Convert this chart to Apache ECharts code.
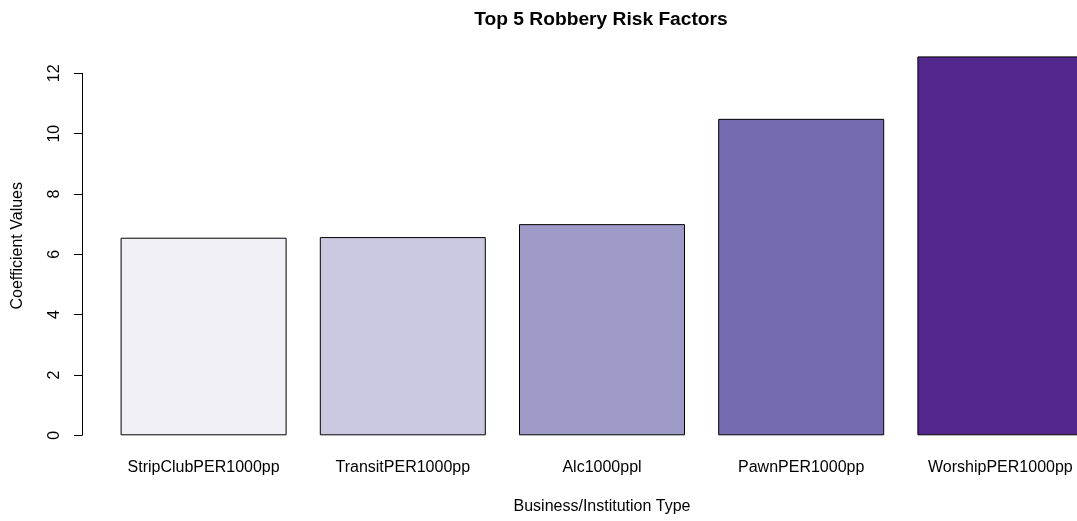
<!DOCTYPE html>
<html>
<head>
<meta charset="utf-8">
<script src="https://cdn.jsdelivr.net/npm/echarts@6/dist/echarts.min.js"></script>
<style>html,body{margin:0;padding:0;background:#fff;overflow:hidden;}#c{width:1100px;height:521px;}</style>
</head>
<body>
<div id="c"></div>
<script>
var categories = ["StripClubPER1000pp", "TransitPER1000pp", "Alc1000ppl", "PawnPER1000pp", "WorshipPER1000pp"];
var values = [6.55, 6.57, 7.0, 10.49, 12.56];
var barColors = ["#F2F0F7", "#CBC9E2", "#9E9AC8", "#756BB1", "#54278F"];
var yTicks = [0, 2, 4, 6, 8, 10, 12];

var font = "'Liberation Sans', Arial, sans-serif";
var chart = echarts.init(document.getElementById('c'), null, {renderer: 'canvas'});
chart.setOption({
  animation: false,
  backgroundColor: '#ffffff',
  title: {
    text: 'Top 5 Robbery Risk Factors',
    left: 596, top: 5, textAlign: 'center',
    textStyle: {fontFamily: font, fontSize: 19.2, fontWeight: 'bold', color: '#000'}
  },
  grid: {left: 104, right: 0, top: 73.3, bottom: 85.7, containLabel: false},
  xAxis: {
    type: 'category',
    data: categories,
    axisLine: {show: false},
    axisTick: {show: false},
    axisLabel: {margin: 24, fontFamily: font, fontSize: 16, color: '#000', interval: 0},
    name: 'Business/Institution Type',
    nameLocation: 'middle',
    nameGap: 63,
    nameTextStyle: {fontFamily: font, fontSize: 16, color: '#000'}
  },
  yAxis: {
    type: 'value',
    min: yTicks[0], max: yTicks[yTicks.length - 1], interval: 2,
    offset: 22,
    axisLine: {show: true, lineStyle: {color: '#000', width: 1}},
    axisTick: {show: true, length: 8, lineStyle: {color: '#000'}},
    splitLine: {show: false},
    axisLabel: {rotate: 90, margin: 19, fontFamily: font, fontSize: 16, color: '#000'}
  },
  graphic: [{
    type: 'text',
    left: 10, top: 182,
    rotation: Math.PI / 2,
    originX: 0, originY: 0,
    style: {text: 'Coefficient Values', font: '16px ' + font, fill: '#000'}
  }],
  series: [{
    type: 'bar',
    clip: false,
    barWidth: 166,
    data: values.map(function (v, i) {
      return {value: v, itemStyle: {color: barColors[i]}};
    }),
    itemStyle: {borderColor: '#000', borderWidth: 1}
  }]
});
</script>
</body>
</html>
